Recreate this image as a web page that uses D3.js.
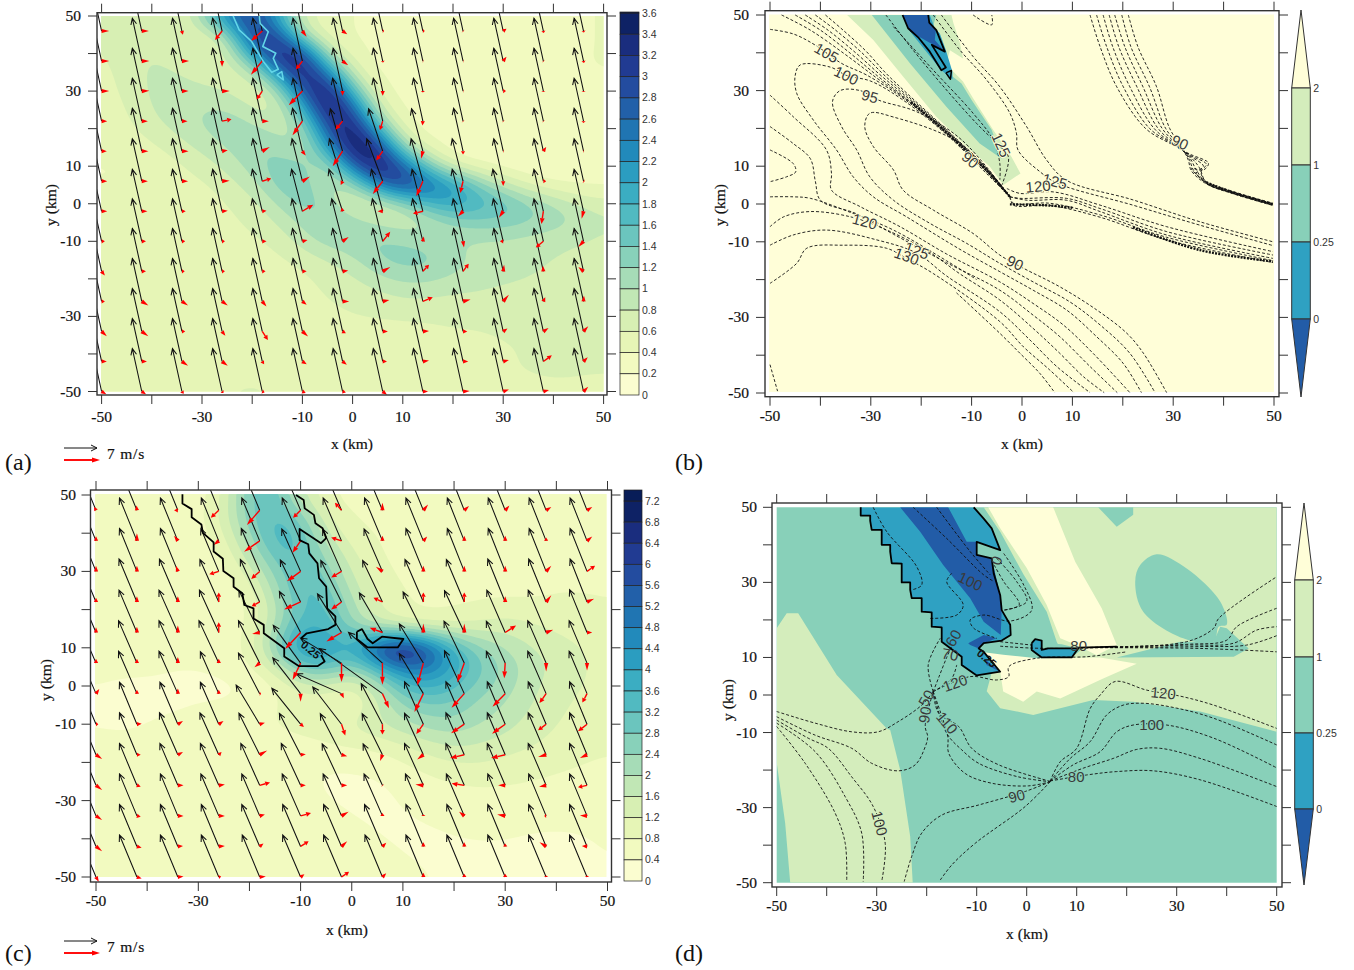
<!DOCTYPE html>
<html><head><meta charset="utf-8">
<script src="https://cdn.jsdelivr.net/npm/d3@7"></script>
<style>html,body{margin:0;background:#fff}svg{display:block}</style></head><body>
<svg id="c" width="1354" height="970"></svg>
<script>
// ---------- DATA ----------
const tickLabels=[-50,-30,-10,0,10,30,50];
const allTicks=d3.range(-50,51,10);
const vecX=d3.range(-50,47,8);
const vecY=[46,38,30,22,14,6,-2,-10,-18,-26,-34,-42,-50];
// Field (a), rows y=50..-50, cols x=-50..50 each 5 km
const fieldA=[
[.6,.75,.7,.5,1.2,2.6,3.1,1.8,.7,.5,.4,.35,.3,.3,.3,.3,.3,.35,.35,.4,.4],
[.6,.75,.75,.6,.55,1.0,3.1,3.1,.9,.5,.4,.35,.3,.3,.3,.3,.3,.35,.35,.4,.4],
[.55,.75,.8,.7,.6,.7,2.0,3.5,3.2,.9,.5,.35,.3,.3,.3,.3,.3,.35,.35,.4,.4],
[.5,.7,.85,.8,.7,.65,.8,2.2,3.6,2.4,.7,.4,.3,.3,.3,.3,.3,.35,.35,.4,.4],
[.5,.65,.85,.9,.85,.8,.6,.9,2.8,3.7,1.6,.5,.35,.3,.3,.3,.3,.35,.35,.35,.4],
[.45,.6,.8,.95,1.0,1.05,.8,.7,1.6,3.7,2.9,.8,.4,.3,.3,.3,.3,.3,.35,.35,.4],
[.4,.55,.7,.85,1.0,1.15,1.1,.9,1.0,2.8,3.7,1.8,.5,.35,.3,.3,.3,.3,.3,.35,.35],
[.4,.45,.55,.7,.85,1.0,1.2,1.2,.9,2.0,3.7,3.3,1.2,.5,.3,.25,.25,.25,.3,.3,.3],
[.4,.4,.45,.55,.7,.85,1.1,1.3,1.3,.9,2.6,3.6,2.8,1.4,.6,.4,.3,.25,.25,.3,.3],
[.4,.4,.4,.5,.55,.7,.9,1.3,1.4,.9,1.0,2.4,3.2,2.7,2.2,1.4,.9,.55,.4,.35,.35],
[.45,.45,.45,.5,.5,.6,.7,1.0,1.3,1.2,.6,.6,1.0,1.7,2.0,1.8,1.6,1.3,1.05,.8,.7],
[.5,.5,.5,.5,.5,.55,.65,.8,1.05,1.25,1.2,1.0,.85,.9,1.2,1.3,1.3,1.2,1.1,1.0,.8],
[.5,.5,.5,.5,.5,.5,.55,.65,.9,1.1,1.15,1.25,1.2,1.1,1.0,.95,.95,.9,.85,.8,.75],
[.45,.45,.45,.45,.45,.5,.5,.55,.65,.8,.95,1.2,1.3,1.3,1.1,.95,.9,.85,.8,.75,.7],
[.45,.42,.42,.42,.42,.42,.45,.5,.55,.65,.75,.95,1.05,1.05,.95,.9,.85,.8,.75,.7,.65],
[.45,.42,.42,.42,.42,.45,.45,.5,.55,.6,.65,.7,.8,.8,.75,.75,.7,.7,.7,.65,.65],
[.5,.48,.45,.45,.45,.5,.55,.55,.55,.55,.6,.62,.62,.62,.65,.65,.65,.65,.68,.68,.62],
[.52,.48,.5,.5,.5,.52,.55,.57,.55,.52,.5,.5,.52,.55,.57,.58,.62,.62,.62,.62,.62],
[.55,.52,.52,.52,.53,.53,.55,.57,.57,.52,.47,.43,.42,.47,.52,.53,.57,.62,.62,.62,.62],
[.57,.52,.52,.53,.55,.57,.58,.56,.53,.52,.47,.42,.43,.42,.47,.52,.57,.62,.62,.62,.62],
[.57,.52,.53,.55,.57,.6,.62,.6,.57,.52,.47,.42,.43,.42,.47,.47,.52,.52,.57,.55,.52]];
const fieldC=[
[.4,.5,.5,.45,.6,1.1,2.9,3.1,1.5,.8,.7,.7,.7,.7,.7,.7,.7,.6,.6,.6,.45],
[.4,.5,.5,.42,.7,1.3,2.8,3.3,2.7,1.1,.8,.7,.7,.7,.7,.7,.7,.6,.6,.6,.5],
[.5,.5,.5,.42,.6,1.1,2.4,3.5,3.2,1.6,.9,.8,.7,.7,.7,.7,.6,.6,.6,.6,.5],
[.5,.5,.5,.42,.5,.85,1.9,3.2,3.3,2.2,1.2,.8,.7,.7,.6,.52,.52,.55,.6,.6,.6],
[.5,.5,.5,.42,.44,.7,1.3,2.6,3.3,2.7,1.5,.95,.7,.7,.6,.6,.6,.6,.7,.7,.7],
[.5,.5,.5,.5,.5,.62,.9,2.2,3.4,3.1,1.8,1.1,.8,.7,.7,.7,.7,.7,.8,.8,.8],
[.5,.5,.5,.5,.5,.55,.75,1.8,3.2,3.4,2.2,1.3,.9,.8,.8,.9,1.0,.95,.9,.85,.8],
[.5,.5,.5,.5,.5,.55,.8,2.0,3.7,3.5,2.5,1.9,1.5,1.3,1.3,1.4,1.5,1.3,1.15,1.0,.9],
[.5,.5,.5,.5,.5,.55,.9,2.5,4.5,4.3,3.7,6.2,7.3,5.8,3.6,2.5,2.0,1.6,1.4,1.2,1.1],
[.5,.5,.5,.42,.42,.5,.7,1.4,2.9,3.3,2.3,3.6,4.9,4.9,3.9,2.9,2.3,1.8,1.5,1.2,1.1],
[.42,.32,.32,.32,.32,.32,.42,.7,1.3,1.4,1.0,1.9,3.4,3.8,3.3,2.6,2.2,1.7,1.4,1.2,1.1],
[.32,.22,.3,.32,.4,.42,.52,.8,1.0,.9,.8,1.4,2.4,2.7,2.7,2.2,2.0,1.6,1.3,1.1,1.0],
[.4,.32,.42,.5,.6,.68,.72,.8,.9,1.0,1.3,1.6,1.9,2.2,2.3,2.0,1.8,1.4,1.2,1.05,.9],
[.5,.5,.52,.6,.68,.72,.7,.7,.72,.8,.9,.95,1.2,1.5,1.7,1.6,1.4,1.25,1.1,.95,.85],
[.5,.52,.6,.68,.7,.7,.72,.68,.55,.42,.5,.55,.8,1.0,1.2,1.2,1.1,1.0,.9,.8,.75],
[.5,.52,.58,.62,.62,.68,.7,.62,.5,.35,.33,.35,.5,.7,.8,.9,.85,.8,.72,.7,.7],
[.5,.5,.52,.6,.62,.62,.68,.62,.5,.42,.35,.33,.42,.55,.6,.62,.62,.6,.62,.6,.6],
[.5,.5,.52,.6,.6,.62,.68,.68,.6,.5,.42,.35,.35,.42,.45,.45,.45,.45,.45,.45,.5],
[.5,.5,.5,.58,.6,.66,.7,.7,.68,.6,.52,.42,.35,.35,.4,.42,.42,.38,.36,.38,.42],
[.5,.5,.52,.58,.62,.68,.7,.7,.68,.62,.58,.5,.42,.35,.33,.33,.33,.33,.33,.35,.42],
[.5,.5,.5,.52,.55,.6,.62,.6,.6,.6,.58,.52,.48,.42,.35,.33,.32,.28,.28,.32,.35]];
// Wind vectors (m/s) rows y=46..-50, cols x=-50..46
const aBlackU=[
[-2,-2,-2,-2,-2,-2,-2,-2,-2,-2,-2,-2,-2],
[-2,-2,-2,-2,-2,-2,-2,-2,-2,-2,-2,-2,-2],
[-2,-2,-2,-2,-2,-2,-2,-2,-2,-2,-2,-2,-2],
[-2,-2,-2,-2,-2,-2,-2.1,-2,-2,-2,-2,-2,-2],
[-2,-2,-2,-2,-2,-2.1,-2.6,-3,-2.4,-2,-2,-2,-2],
[-2,-2,-2,-2,-2,-2.2,-2.8,-3.4,-2.5,-2.3,-2,-2,-2],
[-2,-2,-2,-2,-2.1,-2.3,-2.9,-2.4,-2.3,-2.3,-2.2,-2,-2],
[-2,-2,-2,-2,-2.1,-2.2,-2.3,-2.2,-2.2,-2.1,-2.1,-2,-2],
[-2,-2,-2,-2,-2,-2.1,-2.1,-2.1,-2.1,-2,-2,-2,-2],
[-2,-2,-2,-2,-2,-2,-2,-2,-2,-2,-2,-2,-2],
[-2,-2,-2,-2,-2,-2,-2,-2,-2,-2,-2,-2,-2],
[-2,-2,-2,-2,-2,-2,-2,-2,-2,-2,-2,-2,-2],
[-2,-2,-2,-2,-2,-2,-2,-2,-2,-2,-2,-2,-2]];
const aBlackV=[
[9.1,9.1,9.1,9.1,9.1,9.1,9.1,9.1,9.1,9.1,9.1,9.1,9.1],
[9.1,9.1,9.1,9.1,9.1,9.1,9.1,9.1,9.1,9.1,9.1,9.1,9.1],
[9.1,9.1,9.1,9.1,9.1,9.1,9.1,9.1,9.1,9.1,9.1,9.1,9.1],
[9.1,9.1,9.1,9.1,9.1,9.1,9.1,9.1,9.1,9.1,9.1,9.1,9.1],
[9.1,9.1,9.1,9.1,9.1,9.1,9,9,9,9.1,9.1,9.1,9.1],
[9,9,9,9,9,9,9,9,9,9,9,9,9],
[8.9,8.9,8.9,8.9,8.9,8.9,8.9,8.9,8.9,8.9,8.9,8.9,8.9],
[9,9,9,9,9,9,9,9,9,9,9,9,9],
[9.1,9.1,9.1,9.1,9.1,9.1,9.1,9.1,9.1,9.1,9.1,9.1,9.1],
[9.1,9.1,9.1,9.1,9.1,9.1,9.1,9.1,9.1,9.1,9.1,9.1,9.1],
[9.1,9.1,9.1,9.1,9.1,9.1,9.1,9.1,9.1,9.1,9.1,9.1,9.1],
[9.1,9.1,9.1,9.1,9.1,9.1,9.1,9.1,9.1,9.1,9.1,9.1,9.1],
[9.1,9.1,9.1,9.1,9.1,9.1,9.1,9.1,9.1,9.1,9.1,9.1,9.1]];
const aRedU=[
[1.6,1.5,.2,-1.5,-2.4,.9,1,.3,.4,.1,.7,.1,.1],
[1.6,1.6,1.5,0,-2.4,-1.4,1.2,.1,.1,.1,.7,.1,.1],
[1.6,1.6,1.4,1.6,-1.2,-2.9,0,0,0,.1,.6,0,0],
[1.2,1.3,1.2,2,1.4,-2.1,-1.5,-.6,-.1,.1,.1,.1,0],
[1.1,1.4,1.4,1.2,1.6,.7,-2.1,-1.4,-.4,0,.1,.6,.1],
[1.2,1.3,1.3,1.6,1.9,1.6,-.4,-2.1,-1.4,-.6,0,.6,.2],
[1.2,1.2,.8,1.2,.9,2.3,-.2,-1.1,-2.1,-1.1,-.9,-.4,-.4],
[.7,.9,.7,.6,.9,1.1,1.3,1.6,.2,.2,-.7,-1.6,-1.1],
[.7,.9,.6,.6,.7,.9,1.2,1.6,1.3,1.2,.2,-.1,-1.1],
[.7,1.4,1.3,1.2,.9,.9,1.4,1.4,2.1,1.6,1.2,.4,.1],
[1.1,1.4,.7,.7,1.2,1.2,.7,1.1,1.3,.9,.9,1.1,1],
[1.1,1.1,1.3,1.2,.4,.9,.9,.9,1.3,1.1,1.2,1.8,.9],
[1,.9,.4,.3,.5,.7,.7,.9,1.1,1.4,1.2,1.2,1]];
const aRedV=[
[0,0,-.8,-1.9,-2.1,-1.2,-.7,0,0,-.1,.5,-.4,-.3],
[0,0,0,-1.2,-2.9,-1.8,-.9,-.3,0,0,.9,-.1,-.4],
[0,.1,0,0,-1.8,-3,-1,-1,-.3,0,0,-.2,-.2],
[0,0,0,.4,0,-3,-1.8,-1.9,-.9,-.1,-.1,-.1,-.4],
[0,0,0,.2,.9,-.9,-3.2,-2,-1.6,-.7,0,.9,0],
[0,0,0,.1,.6,1,-.8,-2.7,-3.2,-2.5,-1,0,-.1],
[0,0,0,.1,.1,1.4,.8,0,-.5,-1.1,-1.4,-2.7,-1.6],
[0,0,0,0,0,.3,.9,2,1,-1.3,0,-1.3,-1.2],
[-.9,0,0,0,0,0,.2,.9,1.4,1.6,1.4,1.2,.9],
[0,-.9,-.9,-.9,-1.1,-.7,0,.3,.9,.4,1.4,.9,1.2],
[-1,-1,0,-.9,-1.8,-1.1,-.4,0,.1,0,.6,.7,1.1],
[0,0,-.9,-.9,-.6,-.6,-.7,0,.2,0,.3,1.3,.9],
[-.6,-.6,-.5,-.3,-.2,-.3,-.2,-.7,0,.1,.4,.3,1]];
const cBlackU=[
[-3.7,-3.7,-3.7,-3.7,-3.8,-3.9,-3.9,-3.8,-3.7,-3.6,-3.6,-3.6,-3.6],
[-3.7,-3.7,-3.7,-3.7,-3.8,-3.9,-3.9,-3.8,-3.7,-3.6,-3.6,-3.6,-3.6],
[-3.7,-3.7,-3.7,-3.8,-3.9,-4,-4,-3.9,-3.7,-3.6,-3.6,-3.6,-3.6],
[-3.8,-3.8,-3.9,-4,-4.1,-4.3,-4.4,-4.2,-3.9,-3.8,-3.7,-3.7,-3.6],
[-3.8,-3.8,-4,-4.1,-4.4,-4.5,-5.1,-4.9,-4.3,-4.2,-3.9,-3.8,-3.7],
[-3.9,-3.9,-4,-4.2,-4.5,-5.8,-8.7,-7.2,-5.1,-4.3,-4,-3.9,-3.8],
[-3.9,-3.9,-4,-3.9,-4.5,-5.9,-9.6,-13.4,-5.1,-4.2,-4,-3.9,-3.8],
[-3.7,-3.7,-3.8,-3.9,-5,-6.1,-6.1,-4.5,-4,-3.9,-3.8,-3.8,-3.7],
[-3.7,-3.7,-3.9,-4,-4.4,-4.5,-4.5,-4.3,-4,-3.9,-3.8,-3.8,-3.7],
[-3.7,-3.7,-3.8,-3.9,-4,-4.1,-4.1,-4.1,-4,-3.9,-3.8,-3.8,-3.7],
[-3.7,-3.7,-3.7,-3.8,-3.8,-3.9,-3.9,-3.9,-3.8,-3.8,-3.7,-3.7,-3.7],
[-3.7,-3.7,-3.7,-3.7,-3.8,-3.8,-3.8,-3.8,-3.7,-3.7,-3.7,-3.7,-3.7],
[-3.7,-3.7,-3.7,-3.7,-3.7,-3.8,-3.8,-3.7,-3.7,-3.7,-3.7,-3.7,-3.7]];
const cBlackV=[
[9.1,9.1,9.1,9.1,9.1,9.1,9.1,9.1,9.1,9.1,9.1,9.1,9.1],
[9.1,9.1,9.1,9.1,9.1,9.1,9.1,9.1,9.1,9.1,9.1,9.1,9.1],
[9.1,9.1,9.1,9.1,9.1,9,9,9,9.1,9.1,9.1,9.1,9.1],
[9.1,9.1,9.1,9,9,8.9,8.8,8.8,9,9,9.1,9.1,9.1],
[9,9,9,9,8.9,8.7,8.2,8.4,8.6,8.9,9,9,9.1],
[9,9,9,9,9,8,5.3,6.5,8.3,8.9,8.9,9,9],
[9,9,9,8.9,8.6,7.6,4.2,9.6,8.5,9.1,9,9,9],
[8.9,8.9,8.9,8.9,8.3,7.6,7.9,8.6,9,9,9,9,9],
[8.9,8.9,8.9,8.9,8.8,8.8,8.7,8.7,8.8,8.9,8.9,8.9,8.9],
[8.9,8.9,8.9,8.9,8.9,8.9,8.8,8.8,8.9,8.9,8.9,8.9,8.9],
[8.9,8.9,8.9,8.9,8.9,8.9,8.9,8.9,8.9,8.9,8.9,8.9,8.9],
[8.9,8.9,8.9,8.9,8.9,8.9,8.9,8.9,8.9,8.9,8.9,8.9,8.9],
[8.9,8.9,8.9,8.9,8.9,8.9,8.9,8.9,8.9,8.9,8.9,8.9,8.9]];
const cRedU=[
[-.4,-.1,-.8,-1.7,-2.7,-1.6,-1.4,0,1,1,.9,1.1,1.1],
[0,0,-.8,-1.1,-3.3,-1.7,-2.2,0,.8,0,0,0,1.1],
[0,0,-.4,-2,-1.8,-2.9,-2.2,-1.4,0,0,0,1.1,1.7],
[0,0,0,0,-1.7,-3.5,-2.2,-1.9,0,0,0,1.1,1.5],
[0,0,0,0,-1.6,-3.3,-3.2,-2.7,0,0,2.3,1.5,1.1],
[0,0,0,0,-1.1,-1.7,0,0,-1.3,-1.5,-.2,0,0],
[.7,0,0,0,.3,0,.5,1.4,-1.9,-2.7,-2.7,-1.4,-1],
[.5,1,1.1,1,1.1,.7,.8,0,-1.5,-2.8,-2.8,-1.7,-1.9],
[1.3,.8,1.1,.6,1.6,1.1,1.2,-.5,-1.3,-3,-3,-1.7,-1.5],
[1.3,.8,1.2,1.3,2.2,1.1,1.2,.1,-1.7,-2.7,-1.5,-1.5,-1.9],
[1.3,.8,1.2,1.3,1.1,2.2,1.5,0,0,-1.1,-1.7,-.4,-1.5],
[1.3,1,1.1,1.3,.8,1.7,1.2,.8,0,0,0,-1.4,-1.1],
[.6,1,1.2,.5,1.3,.8,1.6,.8,0,0,0,0,0]];
const cRedV=[
[.7,1,0,-1.6,-3.1,-1.6,1.6,1.6,1.2,.9,1,.7,.7],
[1,1.6,1.1,-.9,-2.3,-2.5,.7,1.1,.9,1.1,1.1,.7,.9],
[1.2,1.2,1.2,-.6,-1.6,-2.1,-1.3,1,1.2,1.2,1.2,1.2,1.2],
[.9,1.2,1.2,2,-.9,-1.6,-1.6,.9,2,2,1.2,1.4,.7],
[1.1,1.2,1.5,2.2,-.3,-3.5,-1.9,1,1.9,1.9,1.5,.6,0],
[.9,.9,1.3,.9,-.9,-3.6,-4,-4.6,-4.8,-4.1,-3.2,-1.8,-1.6],
[1,.8,1.1,.8,0,-1.7,-1,-3.1,-3.9,-3,-2.8,-2,-1.9],
[0,.1,.7,.7,.3,-.6,-2.4,-2.2,-2.1,-1.9,-2,-1.3,-1.5],
[-.9,0,.6,.6,.9,.1,-.3,-1.3,-1,-.7,-.7,-.5,-.7],
[-1,-.3,0,.2,.6,0,0,-.1,.2,.4,0,-.3,-.4],
[-.9,-.2,0,0,.3,.6,.9,.6,.3,.9,.3,0,.1],
[-1,-.3,.1,.1,.6,1.1,1.1,.8,.9,.9,.6,.9,.1],
[-1,-.3,.1,.1,.1,.6,1.1,.8,.9,.7,.7,.3,.3]];
const legendSpeed=7;
// Contours (a), (c): polylines in km
const aCyan=[[-23.8,50],[-22.6,46.3],[-20.1,43.2],[-17.8,37.9],[-16.1,35],[-14.8,35.8],[-15.8,38.7],[-15.3,40.1],[-17.9,41.9],[-16.8,45.8],[-18.4,48],[-18.6,50]];
const aCyanTri=[[-15.1,34.3],[-14.1,35.2],[-13.8,33],[-15.1,34.3]];
const cLoop1=[[-33.1,50.2],[-33.1,47.8],[-31.3,46.3],[-31.3,44.2],[-29.4,42.3],[-29.1,40.1],[-27,37.6],[-27,35.2],[-25.2,33.3],[-25.1,30.1],[-23.1,28.2],[-23.1,26],[-21.4,24.3],[-21,21.2],[-19.2,20.3],[-19.2,17.7],[-17.2,16],[-17.2,13.8],[-13.2,9.9],[-13.2,7.7],[-10.3,5.2],[-6.7,5.2],[-5.3,6.4],[-6,8.1]];
const cLoop2=[[-9.9,12.5],[-8.8,13.8],[-4.6,14.9],[-3.2,16],[-3.2,18.2],[-4.8,20.3],[-5,26],[-6.4,28.2],[-6.7,32.1],[-8.3,34.7],[-8.5,37.1],[-10.2,38.2],[-10.2,41.1],[-6,37.4],[-5,38.7],[-5.7,41.3],[-7.1,42.6],[-7.4,44.8],[-9.2,46.5],[-9.4,48.7],[-10.9,50]];
const cLoop3=[[1,14.2],[2,14.9],[3.1,12.3],[4.1,11.2],[5.9,12.9],[10.1,12.3],[9,10.1],[3.1,10.1],[1,12.3],[1,14.2]];
// Category colours for (b), (d)
const catLevels=['2','1','0.25','0'];
const catCols=['#fffed8','#d4edbc','#88d0b9','#2fa1c2','#225ca7'];
// (b) regions, km
const bGreen=[[-34.7,50],[-14,50],[-13.6,47.8],[-12.3,42.5],[-11.7,38.5],[-14.3,40.7],[-15.3,35.5],[-13.6,35],[-11.7,32.4],[-9.7,28],[-5.7,19.6],[-2.1,12.5],[-.3,8.1],[-3.7,5],[-6.4,9.9],[-11,15.2],[-17,23.1],[-23.6,33.7],[-29.5,43.4]],
bTeal=[[-29.8,50],[-17,50],[-18.6,42.5],[-15,35],[-12,31.9],[-10,27.5],[-6,19.6],[-4,12],[-8.4,16],[-15,25.7],[-22.2,37.2],[-26.9,45.1]],
bBlue=[[-23.7,50],[-21.9,45.1],[-16,35.4],[-13.8,33],[-13.8,35],[-15.1,40.7],[-16.3,45.1],[-17.3,46.5],[-18.3,50]],
bDark=[[-23.7,50],[-22.2,45.6],[-17.6,42.1],[-15.3,40.3],[-17.3,43.4],[-17.1,46],[-18.6,48.2],[-18.6,50]];
const bOutline=[[-23.7,50],[-22.6,46.5],[-20.6,44.1],[-18.3,40.3],[-16,35.4],[-15.1,36.1],[-17.9,42.1],[-15.3,40.3],[-17,46],[-18.4,48],[-18.6,50]];
const bOutlineTri=[[-15.1,34.7],[-14,35.3],[-14.2,33],[-15.1,34.7]];
// (b) dashed contours, km
const bLines=[
[[-50,46.2],[-45.4,45],[-41.1,42.1],[-35.8,37.2],[-30.8,34.1],[-23.6,28],[-15,18.7],[-7,8.5],[-2.4,1.9]],
[[-47.7,50],[-42,46],[-35,39.5],[-29,33.5],[-23.6,28.3],[-15,18.9],[-7,8.7],[-2.4,1.9]],
[[-45,50],[-40,46],[-34,39.8],[-28.5,33.7],[-23.6,28.6],[-15,19.1],[-7,8.9],[-2.4,1.9]],
[[-43,50],[-38.5,46],[-33,40],[-28,34],[-23.4,28.9],[-15,19.3],[-7,9.1],[-2.4,1.9]],
[[-41,50],[-37,46],[-32,40.3],[-27.5,34.3],[-23.2,29.2],[-15,19.5],[-7,9.3],[-2.4,1.9]],
[[-39,50],[-35.5,46],[-31,40.5],[-27,34.6],[-23,29.5],[-15,19.7],[-7,9.5],[-2.4,1.9]],
[[-2.4,1.9],[-12.3,16],[-25.5,23],[-30.2,24],[-31.2,20.5],[-29.5,15.2],[-25.5,9],[-23.6,3.7],[-17.6,-1.6],[-9.7,-7.8],[-4.4,-13.5],[.3,-17],[7.5,-21.9],[14.8,-28],[20.8,-34.2],[24.1,-39.5],[28.7,-49.9]],
[[-2.4,1.9],[-12,17],[-20.9,24.4],[-28.5,27.5],[-32.1,30],[-36.1,30],[-37.6,27.1],[-35.8,20.5],[-32.8,14.3],[-30.2,7.2],[-25.5,1],[-18.3,-5.1],[-11,-10.4],[-4.4,-15.7],[2.2,-20.6],[9.5,-25.9],[15.5,-32],[21.4,-39.5],[26.4,-49.9]],
[[-2.4,1.9],[-7,8],[-15,18.4],[-23.6,27.5],[-30,32.5],[-34.8,34],[-38,36.2],[-44,36.8],[-45,34],[-44.7,29.3],[-41.4,22.2],[-36.8,14.3],[-33.5,7.2],[-29.5,1.9],[-22.9,-3.4],[-12.3,-12],[-4.4,-17.9],[2.2,-22.8],[8.9,-28.1],[14.8,-35.1],[20.1,-42.2],[23.7,-49.9]],
[[-50,28.8],[-45.4,23.1],[-38.8,14.3],[-37.8,8.1],[-37.8,3.7],[-32.1,-.7],[-24.2,-6],[-15,-13.2],[-4.4,-20.6],[2.2,-26.3],[8.2,-32],[14.1,-39.5],[21.4,-49.9]],
[[-50,20.5],[-45.4,16],[-42,12],[-41,6],[-40,1],[-33,-2.5],[-25.5,-8],[-15,-15.5],[-4.4,-22.8],[2.2,-29.4],[7.5,-35.1],[13.5,-43],[18.9,-49.9]],
[[-50,14.3],[-45.4,10.7],[-44.9,8.5],[-46.7,7.2],[-50,5.9]],
[[-50,1.9],[-45.4,1.9],[-42,1.5],[-33.5,-2.5],[-25.5,-6.9],[-15,-15],[-9,-20]],
[[-50,-6],[-47.3,-3.4],[-42,-2],[-34,-3.4],[-27.5,-6.5],[-19,-12.2],[-12.3,-18.5],[-4.4,-25.4],[2.2,-32.9],[7.5,-39.5],[12.2,-45.7],[16.3,-49.9]],
[[-50,-10.9],[-45.4,-8.2],[-38.8,-6.9],[-28.8,-9.5],[-20.9,-13],[-15,-19],[-4.4,-28.5],[1.6,-36],[6.9,-43],[13.5,-49.9]],
[[-50,-21],[-44.7,-15.7],[-42.7,-11.7],[-35.5,-10.9],[-26.9,-11.7],[-22.9,-14.4],[-17.6,-18.4],[-4.4,-31.1],[.3,-37.8],[5.5,-43.9],[10.3,-49.9]],
[[-13,-23.5],[-4.4,-34.2],[-.4,-39.5],[3.6,-44.9],[6.5,-49.9]],
[[-50,-42.5],[-48.5,-49.5]],
[[-27,50],[-21.6,40.7],[-15,30.2],[-9,21.3],[-5,16],[-2.7,12.5],[-4,5]],
[[-25.5,46.9],[-17.6,35.4],[-9.7,24],[-5.7,16.9],[-4.4,10.7],[-4.4,6.4]],
[[-17.6,50],[-12.3,40.7],[-7,32.8],[-2.4,24],[-1.1,18.7],[-.8,14.3],[3.6,8.5],[7,5.5],[22,-.3],[35.3,-5.6],[49.8,-11]],
[[-16,50],[-9.7,39],[-4.4,31],[.9,20.5],[4.9,11.6],[8.8,6.3],[22,1.1],[35.3,-4.7],[49.8,-10]],
[[-3,4.1],[-.4,2.8],[6.2,3.2],[15.5,-.3],[28.7,-6],[49.8,-12.6]],
[[-2.4,1.9],[-.4,1.5],[8.8,1.5],[15.5,-1.2],[28.7,-7.3],[49.8,-13.5]],
[[-2.4,1.9],[1,1],[8.8,1],[15.5,-2],[28.7,-8.2],[49.8,-14.4]],
[[-2.4,1.9],[-1.7,.2],[5.5,.2],[15.5,-2.9],[28.7,-8.8],[49.8,-15]],
[[-2.4,1.9],[-1.7,-.3],[5.5,-.4],[15.5,-3.5],[28.7,-9.5],[49.8,-15.5]],
[[-9.7,50],[-6,47.4],[-6,50]],
[[13.5,50],[15.5,41.6],[18.8,31],[24.5,20],[30,15.6],[33.3,13.2],[37,10.8],[36,9],[33.6,9.4],[36.6,5.9],[41.9,3.3],[49.8,.2]],
[[14.8,50],[16.8,41.6],[20.1,31],[25.3,20],[30.3,15.6],[33.5,12.8],[36.6,10.5],[35.5,8.6],[36.6,5.8],[41.9,3.2],[49.8,.1]],
[[16.1,50],[18,41.6],[21.4,31],[26.2,20],[30.6,15.4],[33.6,12.5],[36,10],[34.6,8.2],[36.6,5.7],[41.9,3.1],[49.8,0]],
[[17.3,50],[19.2,41.6],[22.8,31],[27,20],[31,15.2],[33.6,12.2],[35.2,9.6],[36.6,5.6],[41.9,3],[49.8,-.1]],
[[18.4,50],[20.4,41.6],[24,31],[27.8,20],[31.3,15],[33.4,12],[34.5,9.2],[36.6,5.5],[41.9,2.9],[49.8,-.2]],
[[19.8,50],[21.6,41.6],[25.3,31],[28.5,20],[31.6,14.8],[33.2,11.8],[34,9],[36.6,5.4],[41.9,2.8],[49.8,-.3]],
[[21.1,50],[23,41.6],[26.7,31],[29.3,20],[31.9,14.6],[33,11.6],[33.6,8.8],[36.6,5.3],[41.9,2.7],[49.8,-.4]]];
const bHeavy=[[[-22,27],[-15,18.9],[-7,8.8],[-2.4,1.9]],[[36.6,5.7],[41.9,3],[49.8,-.1]],[[-2.4,-.1],[5.5,-.4],[10,-1]],[[22,-6.2],[35.3,-12.2],[49.8,-15.2]]];
const bLabels=[['105',-38.8,39.9,30],['100',-34.9,33.9,25],['95',-30.2,28.4,15],['90',-10.3,11.6,40],['125',-4.2,15.6,65],['125',6.5,5.9,15],['120',3.2,4.6,-5],['120',-31.2,-4.7,15],['125',-20.9,-12.4,20],['130',-22.9,-13.9,20],['90',-1.4,-15.7,25],['90',31.3,16.2,25]];
// (d) regions, km
const dGreenA=[[-50,17.8],[-48,21.8],[-45.7,21.8],[-38,5.3],[-28,-8.9],[-27.3,-9.3],[-25.3,-20],[-23.3,-37.7],[-22.8,-50],[-47.3,-50],[-48.3,-34.2],[-50,-18]];
const dGreenB=[[-8.6,50],[50,50],[50,-9.8],[34.7,-4.4],[21.3,-1.8],[13.3,-1.3],[1.3,-5.3],[-5.3,-3.5],[-8,1],[-7,6],[7.4,10.5],[6,14.2],[4,22.2],[-.6,32],[-5.3,43.5]];
const dYellowA=[[-7.7,50],[5.3,50],[9.7,35.5],[15,23.1],[18,13.3],[14,10.6],[10,13.3],[6.7,15.1],[4,24],[0,33.8],[-5.3,44.4]];
const dYellowB=[[22,8.3],[14.7,10],[2,9.8],[-4.7,10.7],[-9.3,11.5],[-8,8],[-5.3,6.2],[-4.7,.9],[-.7,-1.8],[2,.9],[6.7,-.9],[15.3,4.4]];
const dTealA=[[26,37.5],[22.7,34.6],[21.7,30.2],[23.3,22.2],[31.3,15.1],[37.4,14.2],[38.4,18.2],[40,18.7],[38.7,24.9],[32,33.7]];
const dTealB=[[18,10],[30.7,14.2],[37.4,14.2],[38.7,18.2],[40,17.8],[44.4,12.4],[41.4,10.2]];
const dTealC=[[14.3,50],[18,44.8],[21.3,48],[21.3,50]];
const dTealD=[[-5,14.5],[7,13.5],[11,12.2],[9,10],[3,10],[-3,10.8],[-8.6,11.5]];
const dBlue=[[-33.2,50],[-33.2,47.8],[-31.3,47.8],[-31.3,46.4],[-31,44],[-29,44],[-29,41.7],[-29,40],[-27.3,40],[-27.3,38.2],[-27,35.1],[-25,35],[-25,32],[-25,30],[-23.3,30],[-23.3,28],[-23,25.8],[-21,25.8],[-21,24.4],[-21,22.2],[-19,22],[-19,20.9],[-19,18.2],[-17,18],[-17,16.4],[-17,14.2],[-13,10.2],[-13,8],[-10,5.2],[-5.3,6.2],[-8.6,11.5],[-9.6,12.4],[-8.6,13.8],[-5,14.5],[-3.2,16],[-3.3,18.7],[-5,22.6],[-5.3,26.6],[-6.6,32.4],[-7,36.4],[-10,37.3],[-10,40.8],[-5.3,38.6],[-7,44.4],[-8.6,47],[-10.6,50]];
const dDark=[[-25.3,50],[-15.7,50],[-12,40.8],[-10,40.8],[-10,37.3],[-7,36.4],[-5.3,26.6],[-5,22.6],[-5.2,16],[-8.6,19.5],[-11.3,25.8],[-16.7,34.6],[-21.3,43.5]];
const dDark2=[[-11.7,13.8],[-8.6,16],[-6,15.1],[-8.6,13.8],[-9.6,12.4],[-11.3,13.3]];
const dDark3=[[-8.6,9.8],[-5.3,6.2],[-8,8]];
const dBlob=[[1,13.8],[1.7,14.9],[3,14.5],[3,12],[4.3,12.4],[10.3,12.4],[9,10],[3,10],[1,12],[1,13.8]];
const dThick=[[10.3,12.6],[18,12.9]];
const dLines=[
[[-50,-4.4],[-42.3,-7.5],[-35,-9.8],[-29.7,-9.8],[-25.7,-7.1],[-21,-2.7],[-18.7,.9]],
[[-50,-5.8],[-42.3,-10.7],[-35,-14.2],[-31,-18.2],[-25.7,-20.2],[-22.3,-18.6],[-20.3,-13.8],[-19.8,-11.1],[-20.3,-8.4],[-18.7,.9]],
[[-50,-6.7],[-43.7,-11.5],[-39.7,-14.2],[-35,-21.8],[-30.7,-29.7],[-28.3,-39.5],[-29,-49.7]],
[[-50,-7.5],[-42.3,-15.1],[-36.3,-27.1],[-33,-36.8],[-32.7,-49.7]],
[[-50,-8.4],[-44.3,-18.2],[-38.3,-31.5],[-36.3,-39.5],[-36,-49.7]],
[[-18.7,.9],[-17.6,-4.9],[-13.6,-8.4],[-11,-14.2],[-5.6,-18.6],[4.7,-23]],
[[-18.7,.9],[-16,-10.2],[-13,-14.6],[-9.6,-18.2],[-1.7,-21.8],[4.7,-23.1]],
[[-18.7,.9],[-15.8,-11],[-15.6,-15.5],[-12.3,-20.9],[-7,-23.5],[.4,-24.2],[4.7,-23.1]],
[[4.7,-23.1],[-.3,-25.7],[-9.6,-29.3],[-17,-32],[-21,-36.8],[-23,-43],[-24.5,-49.7]],
[[4.7,-23.1],[-.3,-29.7],[-10.3,-39.5],[-15,-45.3],[-17.5,-49.7]],
[[4.7,-22.9],[6.7,-17.8],[10,-14.2],[12.7,-3.6],[14.7,0],[17.7,3.6],[24,1.3],[30.7,-.3],[37.4,-2.7],[50,-8.9]],
[[4.7,-22.9],[8.7,-16.9],[12.7,-12.4],[16,-5.3],[19.3,-2.7],[23.3,-2.2],[30,-3.5],[37.4,-6.2],[50,-13.3]],
[[4.7,-22.9],[9.3,-18.6],[14.7,-15.1],[18,-9.8],[21.3,-8],[28,-8],[37.4,-11.5],[50,-19.4]],
[[4.7,-22.9],[11.3,-19.5],[17.3,-16.9],[22,-14.5],[26.7,-14.2],[34.7,-16.9],[50,-24.4]],
[[4.7,-22.9],[12,-21.3],[18,-20.4],[25.3,-20.2],[34.7,-22.6],[50,-29.7]],
[[10.7,12.6],[32,14.2],[37.4,17.8],[38.4,20.4],[50,31.5]],
[[10.7,12.6],[32,13.5],[40,14.6],[42,18.2],[50,23.1]],
[[10.7,12.6],[32,13.3],[41.4,13.8],[46,17.3],[50,18.2]],
[[10.7,12.6],[34.7,12.9],[44,13.3],[50,15.8]],
[[10.7,12.6],[34.7,12.4],[50,11.5]],
[[-5.3,14.2],[1,13.3]],[[-5.3,13],[1,12.5],[10,12.4]],
[[-18.7,.9],[-19.7,8],[-17.3,15.1]],[[-18.7,.9],[-17.5,5],[-16,10],[-15,13]],[[-18.7,.9],[-15,4.4],[-14,8]],
[[-18.7,.9],[-11.3,4.9],[-6,4],[-3.6,4.9],[-3.6,7.5],[2,9.8],[12,10.2],[20,11.5]],
[[-15,32.4],[-16,30.2],[-12.7,24],[-14,21.3],[-19.3,20.4]],
[[-30.7,50],[-28,43.5],[-22,34.2],[-21,29.3],[-23,28]],
[[-22.7,50],[-16,41.7],[-8.6,32],[-6.5,30.2]],
[[-18,50],[-11.3,38.2],[-7.3,32]],
[[-4.6,37.7],[-.6,29.3],[1,22.6],[-3.3,19.7],[-8.6,21.3],[-11.3,20],[-10.6,17.8],[-6,15.1]],
[[-6,36.4],[-2,30.2],[0,24.9],[-4.6,22.6]],
[[-6.5,34.6],[-4.6,30.2],[-1.5,24],[-4.6,22.6]]];
const dLabels=[['100',-11.3,30.2,25,'none'],['60',-14.6,15.1,-60,'none'],['70',-15.3,10.7,10,'none'],['120',-14.3,3.1,-20,'#88d0b9'],['80',10.4,13.1,0,'none'],['50',-20,-.9,-60,'none'],['90',-20.3,-5.3,-80,'#88d0b9'],['110',-16,-7.5,50,'#88d0b9'],['80',9.9,-21.8,0,'#88d0b9'],['90',-2,-27,-15,'#88d0b9'],['120',27.3,.4,5,'#d4edbc'],['100',25,-8,0,'#88d0b9'],['100',-29.5,-34.2,75,'#d4edbc'],['0',-6,35.8,-70,'none']];

// ---------- DRAW ----------
const svg=d3.select('#c');
const serif='"Liberation Serif","Times New Roman",serif', sans='"Liberation Sans",Arial,sans-serif';
const arrowScale=d3.scaleLinear().domain([0,legendSpeed]).range([0,33]);
const panels={
 a:{xr:[101.6,603.6],yr:[391.5,16],frame:[97,607,12.7,395],fill:[101,603.5,16,391.5],xl:417,xt:[352,445],yt:[52,205],yl:81,tag:[5,470,'(a)'],legend:[64,448,460,107,460]},
 b:{xr:[770,1274],yr:[393,15],frame:[765,1279,10.7,396.7],fill:[769,1274,14.5,392],xl:416,xt:[1022,445],yt:[721,205],yl:749,tag:[675,470,'(b)']},
 c:{xr:[96,607.5],yr:[877,495],frame:[90.5,611.5,490,882],fill:[95,606.5,494,877],xl:901,xt:[347,931],yt:[47,680],yl:76,tag:[5,961,'(c)'],legend:[64,941,953,107,953]},
 d:{xr:[776.7,1276.7],yr:[882.7,507.3],frame:[772,1282,503,887],fill:[776.7,1276.7,507.3,882.7],xl:906,xt:[1027,935],yt:[729,700],yl:757,tag:[675,961,'(d)']}
};
for(const k in panels){const p=panels[k];p.k=k;
 p.x=d3.scaleLinear().domain([-50,50]).range(p.xr);
 p.y=d3.scaleLinear().domain([-50,50]).range(p.yr);
 p.g=svg.append('g');
 const defs=svg.append('defs');
 const [a,b,c,e]=p.frame;
 defs.append('clipPath').attr('id','frame'+k).append('rect').attr('x',a).attr('y',c).attr('width',b-a).attr('height',e-c);
 const f=p.fill;
 defs.append('clipPath').attr('id','fill'+k).append('rect').attr('x',f[0]).attr('y',f[2]).attr('width',f[1]-f[0]).attr('height',f[3]-f[2]);
 p.fillG=p.g.append('g').attr('clip-path',`url(#fill${k})`);
 p.topG=p.g.append('g').attr('clip-path',`url(#frame${k})`);
}
function upsample(grid,factor){
 const ny=grid.length,nx=grid[0].length,W=(nx-1)*factor+1,H=(ny-1)*factor+1,out=new Float64Array(W*H);
 const cr=(a,b,c,d,t)=>b+.5*t*(c-a+t*(2*a-5*b+4*c-d+t*(3*(b-c)+d-a)));
 const at=(j,i)=>grid[Math.max(0,Math.min(ny-1,j))][Math.max(0,Math.min(nx-1,i))];
 for(let J=0;J<H;J++)for(let I=0;I<W;I++){
  const fy=J/factor,fx=I/factor,j=Math.floor(fy),i=Math.floor(fx),ty=fy-j,tx=fx-i,r=[];
  for(let m=-1;m<=2;m++)r.push(cr(at(j+m,i-1),at(j+m,i),at(j+m,i+1),at(j+m,i+2),tx));
  out[J*W+I]=Math.max(0,cr(r[0],r[1],r[2],r[3],ty));
 }
 return {v:out,W,H};
}
function heat(p,grid,levels,step,max){
 const factor=10,u=upsample(grid,factor),d=100/(u.W-1);
 if(d3.blur2)d3.blur2({data:u.v,width:u.W},5);
 const path=d3.geoPath(d3.geoTransform({point(x,y){this.stream.point(p.x(-50+(x-.5)*d),p.y(50-(y-.5)*d));}}));
 const cs=d3.contours().size([u.W,u.H]).thresholds(levels)(u.v);
 p.fillG.selectAll('path.h').data(cs).join('path').attr('class','h').attr('d',path)
  .attr('fill',c=>d3.interpolateYlGnBu((c.value+step/2)/max));
}
const line=(p,cv)=>d3.line().x(d=>p.x(d[0])).y(d=>p.y(d[1])).curve(cv||d3.curveLinear);
function vectors(p,bu,bv,ru,rv){
 const g=p.topG;
 vecY.forEach((vy,j)=>vecX.forEach((vx,i)=>{
  const x0=p.x(vx),y0=p.y(vy),dx=arrowScale(bu[j][i]),dy=-arrowScale(bv[j][i]);
  const ang=Math.atan2(dy,dx),L=7,A=.42;
  g.append('path').attr('fill','none').attr('stroke','#111').attr('stroke-width',1.05)
   .attr('d',`M${x0},${y0}L${x0+dx},${y0+dy}M${x0+dx-L*Math.cos(ang-A)},${y0+dy-L*Math.sin(ang-A)}L${x0+dx},${y0+dy}L${x0+dx-L*Math.cos(ang+A)},${y0+dy-L*Math.sin(ang+A)}`);
 }));
 vecY.forEach((vy,j)=>vecX.forEach((vx,i)=>redArrow(g,p.x(vx),p.y(vy),arrowScale(ru[j][i]),-arrowScale(rv[j][i]))));
}
function redArrow(g,x0,y0,dx,dy){
 const len=Math.hypot(dx,dy);if(len<.3)return;
 const ux=dx/len,uy=dy/len,nx=-uy,ny=ux;
 if(len<=9){
  const w=2.1;
  g.append('path').attr('fill','#f00').attr('d',`M${x0+nx*w},${y0+ny*w}L${x0+dx},${y0+dy}L${x0-nx*w},${y0-ny*w}Z`);
 }else{
  const hl=Math.min(8,.45*len),w=2.4,bx=x0+dx-ux*hl,by=y0+dy-uy*hl;
  g.append('path').attr('stroke','#f00').attr('stroke-width',1.4).attr('d',`M${x0},${y0}L${bx},${by}`);
  g.append('path').attr('fill','#f00').attr('d',`M${bx+nx*w},${by+ny*w}L${x0+dx},${y0+dy}L${bx-nx*w},${by-ny*w}Z`);
 }
}
function frame(p){
 const [a,b,c,e]=p.frame,g=p.g.append('g'),T=9;
 g.append('rect').attr('x',a).attr('y',c).attr('width',b-a).attr('height',e-c).attr('fill','none').attr('stroke','#333').attr('stroke-width',1.4);
 const tick=(x1,y1,x2,y2)=>g.append('line').attr('x1',x1).attr('y1',y1).attr('x2',x2).attr('y2',y2).attr('stroke','#333').attr('stroke-width',1);
 allTicks.forEach(t=>{const X=p.x(t),Y=p.y(t);
  tick(X,c,X,c-T);tick(X,e,X,e+T);tick(a,Y,a-T,Y);tick(b,Y,b+T,Y);});
 const txt=(x,y,s,anch,sz,rot)=>{const t=g.append('text').attr('x',x).attr('y',y).text(s).attr('text-anchor',anch).attr('font-family',serif).attr('font-size',sz).attr('fill','#111').attr('stroke','#111').attr('stroke-width',.2);if(rot!=null)t.attr('transform',`rotate(${rot} ${x} ${y})`);return t;};
 tickLabels.forEach(t=>{
  txt(p.x(t),p.xl+5,String(t),'middle',15.5);
  txt(p.yl,p.y(t)+5,String(t),'end',15.5);
 });
 txt(p.xt[0],p.xt[1]+4,'x (km)','middle',15.5);
 txt(p.yt[0]+4,p.yt[1],'y (km)','middle',15.5,-90);
 txt(p.tag[0],p.tag[1],p.tag[2],'start',24).attr('stroke','none');
 if(p.legend){const [x,y1,y2,tx,ty]=p.legend;
  const X2=x+arrowScale(legendSpeed);
  g.append('path').attr('fill','none').attr('stroke','#111').attr('d',`M${x},${y1}L${X2},${y1}M${X2-6},${y1-3}L${X2},${y1}L${X2-6},${y1+3}`);
  redArrow(g,x,y2,arrowScale(legendSpeed)+3,0);
  g.append('line').attr('x1',x).attr('x2',x+30).attr('y1',y2).attr('y2',y2).attr('stroke','#f00').attr('stroke-width',1.6);
  txt(tx,ty-1,'7 m/s','start',15.5).attr('letter-spacing','.8px');
 }
}
function ladder(x0,x1,yTop,yBot,max,step,capTop){
 const n=Math.round(max/step),h=(yBot-yTop)/n,g=svg.append('g');
 d3.range(n).forEach(i=>{const lv=max-(i+1)*step;
  g.append('rect').attr('x',x0).attr('y',yTop+i*h).attr('width',x1-x0).attr('height',h)
   .attr('fill',d3.interpolateYlGnBu((lv+step/2)/max)).attr('stroke','#222').attr('stroke-width',.7);});
 if(capTop<yTop)g.append('rect').attr('x',x0).attr('y',capTop).attr('width',x1-x0).attr('height',yTop-capTop).attr('fill','#081d58').attr('stroke','#222').attr('stroke-width',.7);
 d3.range(n+1).forEach(i=>{const lv=+(max-i*step).toFixed(1);
  g.append('text').attr('x',x1+3).attr('y',yTop+i*h+3.5).text(lv).attr('font-family',sans).attr('font-size',10.5).attr('fill','#333');});
}
function diamond(cx,hw,apexTop,ys,apexBot){
 const g=svg.append('g'),[y2,y1,y025,y0]=ys;
 const s=(d,f)=>g.append('path').attr('d',d).attr('fill',f).attr('stroke','#333').attr('stroke-width',1);
 s(`M${cx},${apexTop}L${cx+hw},${y2}L${cx-hw},${y2}Z`,catCols[0]);
 s(`M${cx-hw},${y2}H${cx+hw}V${y1}H${cx-hw}Z`,catCols[1]);
 s(`M${cx-hw},${y1}H${cx+hw}V${y025}H${cx-hw}Z`,catCols[2]);
 s(`M${cx-hw},${y025}H${cx+hw}V${y0}H${cx-hw}Z`,catCols[3]);
 s(`M${cx-hw},${y0}L${cx+hw},${y0}L${cx},${apexBot}Z`,catCols[4]);
 ys.forEach((y,i)=>g.append('text').attr('x',cx+hw+3).attr('y',y+3.5).text(catLevels[i]).attr('font-family',sans).attr('font-size',10.5).attr('fill','#333'));
}
function poly(p,pts,col,smooth){p.fillG.append('path').attr('d',smooth?line(p,d3.curveCatmullRomClosed.alpha(.5))(pts):line(p)(pts)+'Z').attr('fill',col);}
function solid(p,pts,col,w){p.topG.append('path').attr('d',line(p)(pts)).attr('fill','none').attr('stroke',col).attr('stroke-width',w).attr('stroke-linejoin','round');}
function dashed(p,lines){
 const l=line(p,d3.curveCatmullRom.alpha(.5));
 lines.forEach(L=>p.topG.append('path').attr('d',l(L)).attr('fill','none').attr('stroke','#111').attr('stroke-width',.9).attr('stroke-dasharray','3 2'));
}
function labels(p,list,halo){
 list.forEach(d=>{const X=p.x(d[1]),Y=p.y(d[2]);
  p.topG.append('text').attr('x',X).attr('y',Y+5).attr('text-anchor','middle').attr('font-family',sans).attr('font-size',15).attr('fill','#3a3a3a')
   .attr('transform',`rotate(${d[3]} ${X} ${Y})`).attr('stroke',d[4]||halo).attr('stroke-width',2).attr('paint-order','stroke').text(d[0]);});
}
// (a)
const pa=panels.a;
heat(pa,fieldA,d3.range(0,3.61,.2),.2,3.6);
vectors(pa,aBlackU,aBlackV,aRedU,aRedV);
solid(pa,aCyan,'#62d6e8',1.6);solid(pa,aCyanTri,'#62d6e8',1.6);
ladder(620,639,13,395,3.6,.2,12);
// (b)
const pb=panels.b;
pb.fillG.append('rect').attr('x',769).attr('y',14).attr('width',506).attr('height',379).attr('fill',catCols[0]);
poly(pb,bGreen,catCols[1]);poly(pb,bTeal,catCols[2]);poly(pb,bBlue,catCols[3]);poly(pb,bDark,catCols[4]);
dashed(pb,bLines);
bHeavy.forEach(L=>pb.topG.append('path').attr('d',line(pb,d3.curveCatmullRom.alpha(.5))(L)).attr('fill','none').attr('stroke','#111').attr('stroke-width',2.4).attr('stroke-dasharray','2 1.2'));
solid(pb,bOutline,'#000',1.8);solid(pb,bOutlineTri,'#000',1.5);
labels(pb,bLabels,catCols[0]);
diamond(1301,9.3,10,[88,165,242,319],397);
// (c)
const pc=panels.c;
heat(pc,fieldC,d3.range(0,7.21,.4),.4,7.2);
vectors(pc,cBlackU,cBlackV,cRedU,cRedV);
solid(pc,cLoop1,'#000',1.8);solid(pc,cLoop2,'#000',1.8);solid(pc,cLoop3,'#000',1.8);
pc.topG.append('text').attr('x',pc.x(-8)).attr('y',pc.y(9.5)+4).attr('text-anchor','middle').attr('font-family',sans).attr('font-size',11).attr('font-weight','bold').attr('fill','#111').attr('transform',`rotate(40 ${pc.x(-8)} ${pc.y(9.5)})`).text('0.25');
ladder(624,642,501,881,7.2,.4,490);
// (d)
const pd=panels.d;
pd.fillG.append('rect').attr('x',776).attr('y',507).attr('width',501).attr('height',376).attr('fill',catCols[2]);
poly(pd,dGreenA,catCols[1]);poly(pd,dGreenB,catCols[1]);
poly(pd,dYellowA,catCols[0]);poly(pd,dYellowB,catCols[0]);
poly(pd,dTealA,catCols[2],true);poly(pd,dTealB,catCols[2]);poly(pd,dTealC,catCols[2]);poly(pd,dTealD,catCols[2]);
poly(pd,dBlue,catCols[3]);poly(pd,dDark,catCols[4]);poly(pd,dDark2,catCols[4]);poly(pd,dDark3,catCols[4]);
poly(pd,dBlob,catCols[3]);
dashed(pd,dLines);
solid(pd,dBlue,'#000',1.8);solid(pd,dBlob,'#000',1.8);solid(pd,dThick,'#000',1.8);
labels(pd,dLabels,catCols[2]);
pd.topG.append('text').attr('x',pd.x(-8)).attr('y',pd.y(9.8)+4).attr('text-anchor','middle').attr('font-family',sans).attr('font-size',11).attr('font-weight','bold').attr('fill','#111').attr('transform',`rotate(40 ${pd.x(-8)} ${pd.y(9.8)})`).text('0.25');
diamond(1304,9.3,503,[580,657,733,809],885);
for(const k in panels)frame(panels[k]);
</script></body></html>
